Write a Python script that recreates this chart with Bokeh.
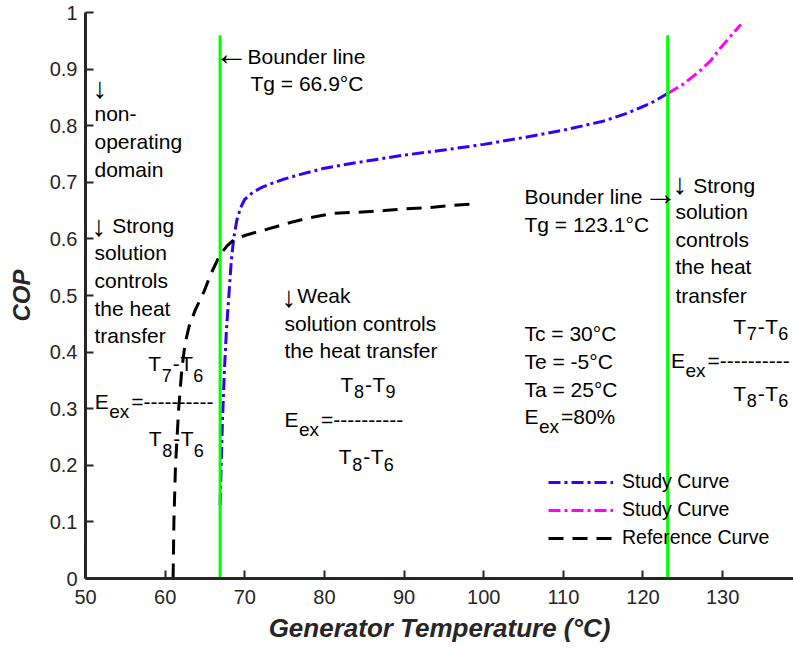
from bokeh.plotting import figure
from bokeh.models import FixedTicker, Label, Legend, LegendItem
from bokeh.embed import file_html
from bokeh.resources import INLINE

# ---------------- data ----------------
study_x = [66.9, 67.0, 67.2, 67.45, 67.7, 68.0, 68.3, 68.6, 69.0, 69.5, 70.0, 71.0, 72.0, 73.0,
           75.0, 77.0, 80.0, 85.0, 90.0, 95.0, 100.0, 105.0, 110.0, 115.0, 118.0, 121.0, 123.1]
study_y = [0.13, 0.18, 0.28, 0.37, 0.44, 0.50, 0.56, 0.60, 0.633, 0.656, 0.670, 0.682, 0.690, 0.696,
           0.706, 0.714, 0.725, 0.737, 0.748, 0.757, 0.767, 0.779, 0.792, 0.808, 0.822, 0.840, 0.857]

study2_x = [123.1, 125.0, 127.0, 128.5, 129.7, 131.0, 132.3]
study2_y = [0.857, 0.873, 0.895, 0.915, 0.937, 0.958, 0.979]

ref_x = [61.0, 61.1, 61.3, 61.7, 62.1, 62.5, 63.0, 63.8, 64.85, 65.8, 66.9, 67.8, 68.6, 70.0,
         72.0, 74.0, 76.0, 78.0, 81.0, 84.0, 87.5, 90.0, 93.0, 96.0, 99.2]
ref_y = [0.0, 0.1, 0.2, 0.3, 0.37, 0.415, 0.445, 0.475, 0.506, 0.54, 0.572, 0.588, 0.598, 0.606,
         0.614, 0.622, 0.630, 0.637, 0.645, 0.647, 0.650, 0.653, 0.655, 0.659, 0.662]

bounder_tg = [66.9, 123.1]

x_ticks = [50, 60, 70, 80, 90, 100, 110, 120, 130]
y_ticks = [0, 0.1, 0.2, 0.3, 0.4, 0.5, 0.6, 0.7, 0.8, 0.9, 1]
y_tick_labels = ["0", "0.1", "0.2", "0.3", "0.4", "0.5", "0.6", "0.7", "0.8", "0.9", "1"]

legend_labels = ["Study Curve", "Study Curve", "Reference Curve"]

# ---------------- layout ----------------
W, H = 793, 651
L, R, T, B = 85, 0, 12, 73
X0, X1 = 50, 138.9
Y0, Y1 = 0, 1
FONT = "Liberation Sans"
AX = "#262626"

p = figure(width=W, height=H, x_range=(X0, X1), y_range=(Y0, Y1),
           output_backend="svg", toolbar_location=None,
           min_border_left=L, min_border_right=R, min_border_top=T, min_border_bottom=B)
p.outline_line_color = None
p.grid.visible = False
p.background_fill_color = "white"
p.border_fill_color = "white"

for ax in (p.xaxis, p.yaxis):
    ax.axis_line_width = 3
    ax.axis_line_color = AX
    ax.major_tick_in = 8
    ax.major_tick_out = 0
    ax.major_tick_line_width = 2
    ax.major_tick_line_color = AX
    ax.minor_tick_line_color = None
    ax.major_label_text_font = FONT
    ax.major_label_text_font_size = "20px"
    ax.major_label_text_color = AX
    ax.axis_label_text_font = FONT
    ax.axis_label_text_font_style = "bold italic"
    ax.axis_label_text_color = AX

p.xaxis.ticker = FixedTicker(ticks=x_ticks)
p.yaxis.ticker = FixedTicker(ticks=y_ticks)
p.yaxis.major_label_overrides = {t: s for t, s in zip(y_ticks, y_tick_labels)}
p.xaxis.major_label_standoff = 11
p.yaxis.major_label_standoff = 8
p.xaxis.axis_label = "Generator Temperature (°C)"
p.xaxis.axis_label_text_font_size = "26px"
p.xaxis.axis_label_standoff = 6
p.yaxis.axis_label = "COP"
p.yaxis.axis_label_text_font_size = "24px"
p.yaxis.axis_label_standoff = 12

# ---------------- curves ----------------
r_blue = p.line(study_x, study_y, line_color="#3300ff", line_width=3, line_dash="12 4 3 4")
r_mag = p.line(study2_x, study2_y, line_color="#ff00ff", line_width=3, line_dash="12 4 3 4")
r_ref = p.line(ref_x, ref_y, line_color="black", line_width=3, line_dash="15 9")
p.segment(x0=bounder_tg, y0=0, x1=bounder_tg, y1=0.96, line_color="#00ff00", line_width=3)

legend = Legend(items=[LegendItem(label=legend_labels[0], renderers=[r_blue]),
                       LegendItem(label=legend_labels[1], renderers=[r_mag]),
                       LegendItem(label=legend_labels[2], renderers=[r_ref])],
                location=(463, 28.75), orientation="vertical",
                border_line_color=None, background_fill_alpha=0,
                padding=0, margin=0, spacing=5, glyph_width=65, glyph_height=22,
                label_height=22, label_standoff=9,
                label_text_font=FONT, label_text_font_size="19.5px", label_text_color="black")
legend.level = "underlay"
p.add_layout(legend)

# ---------------- annotations ----------------
FW = W - L - R
FH = H - T - B


def dx(px):
    return X0 + (px - L) * (X1 - X0) / FW


def dy(py):
    return Y1 - (py - T) * (Y1 - Y0) / FH


def put(px, py, text, size=21):
    p.add_layout(Label(x=dx(px), y=dy(py - size / 3.0), text=text, text_font=FONT,
                       text_font_size=f"{size}px", text_color="black",
                       text_align="left", text_baseline="alphabetic"))


def down(px, py):
    put(px, py, "↓", 29)


def side(px, py, ch):
    put(px, py, ch, 34)


def diff(px, py, a, b, sub):
    put(px, py, "T")
    put(px + 13.5, py + sub, a, 18)
    put(px + 24.5, py, "-")
    put(px + 32, py, "T")
    put(px + 45, py + sub, b, 18)


def eex(px, py, tail):
    put(px, py, "E")
    put(px + 14.5, py + 9.5, "ex", 19)
    put(px + 36.5, py, tail)


# left side
down(92, 97)
for yy, tx in [(120, "non-"), (148, "operating"), (176, "domain"),
               (259.3, "solution"), (287, "controls"),
               (315, "the heat"), (341.7, "transfer")]:
    put(94, yy, tx)
down(91, 235)
put(111.7, 231.7, "Strong")
side(214, 63.5, "←")
put(247, 62.7, "Bounder line")
put(250, 90, "Tg = 66.9°C")
diff(147.7, 370, "7", "6", 10.5)
eex(94.3, 408.3, "=----------")
diff(148.3, 445, "8", "6", 10.5)

# middle
down(281, 306)
put(296.7, 301.7, "Weak")
for yy, tx in [(330, "solution controls"), (356.7, "the heat transfer")]:
    put(284, yy, tx)
diff(340, 391, "8", "9", 6)
eex(284, 425.7, "=----------")
diff(338.3, 463.3, "8", "6", 7)

# conditions
put(524, 203.3, "Bounder line")
side(643, 204, "→")
put(524, 230.7, "Tg = 123.1°C")
for yy, tx in [(340, "Tc = 30°C"), (368.3, "Te = -5°C"), (396, "Ta = 25°C")]:
    put(524, yy, tx)
eex(524, 423.3, "=80%")

# right side
down(672, 193)
put(692.7, 191.7, "Strong")
for yy, tx in [(218.3, "solution"), (246, "controls"),
               (273.3, "the heat"), (301.7, "transfer")]:
    put(675, yy, tx)
diff(732.7, 333.3, "7", "6", 6)
eex(670.5, 366.7, "=----------")
diff(732.7, 400, "8", "6", 6)

open("out.html", "w").write(file_html(p, INLINE))
